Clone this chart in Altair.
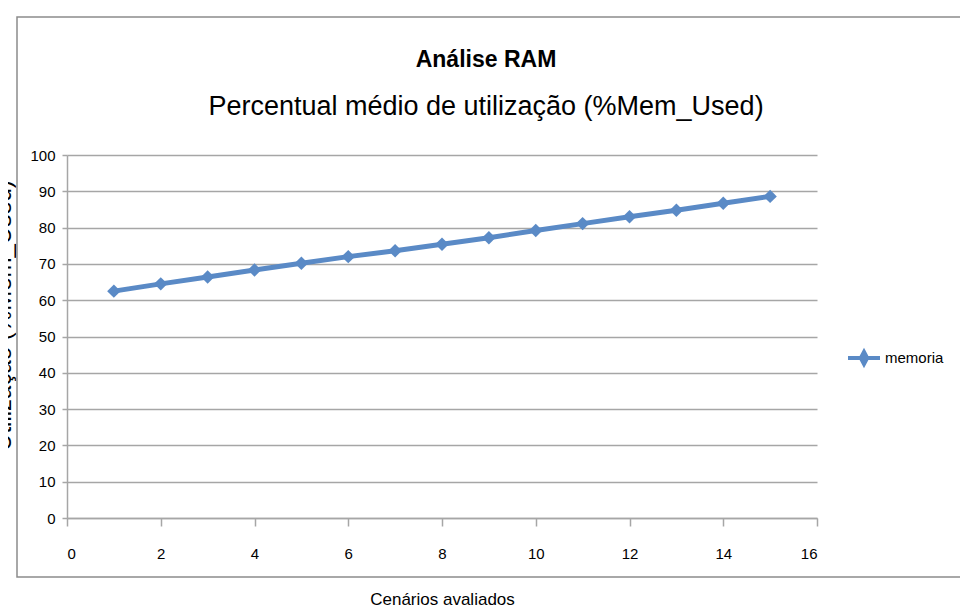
import altair as alt
import pandas as pd

cenarios = list(range(1, 16))
memoria = [62.5, 64.5, 66.4, 68.3, 70.2, 72.0, 73.6, 75.4, 77.2, 79.2, 81.1, 83.0, 84.8, 86.7, 88.6]
serie = ["memoria"] * len(cenarios)

df = pd.DataFrame({"x": cenarios, "y": memoria, "serie": serie})

FONT = "Liberation Sans, Arial, sans-serif"
BLUE = "#5A8AC6"
GRID = "#A6A6A6"

border = alt.Chart(pd.DataFrame({"a": [0]})).mark_rect(
    fillOpacity=0, stroke="#8C8C8C", strokeWidth=1.5
).encode(
    x=alt.value(-50), x2=alt.value(898), y=alt.value(-138), y2=alt.value(422)
)

line = alt.Chart(df).mark_line(
    strokeWidth=5,
    point=alt.OverlayMarkDef(shape="diamond", size=180, filled=True),
).encode(
    x=alt.X("x:Q", scale=alt.Scale(domain=[0, 16], nice=False),
            axis=alt.Axis(values=list(range(0, 17, 2)), title="Cenários avaliados",
                          grid=False, tickSize=8, labelPadding=20, labelFontSize=15,
                          titleY=73, titleFontSize=17, titleFontWeight="normal",
                          titleBaseline="top")),
    y=alt.Y("y:Q", scale=alt.Scale(domain=[0, 100], nice=False),
            axis=alt.Axis(values=list(range(0, 101, 10)), title="Utilização (%Mem_Used)",
                          grid=True, tickSize=5, labelPadding=7, labelFontSize=15,
                          titleX=-57, titleY=160, titleAngle=-90, titleFontSize=24,
                          titleFontWeight="normal", titleAlign="center",
                          titleBaseline="alphabetic")),
    color=alt.Color("serie:N", scale=alt.Scale(range=[BLUE]),
                    legend=alt.Legend(title=None, orient="none", legendX=779, legendY=185,
                                      symbolType="M-1,0L1,0M0,-0.38L0.2,0L0,0.38L-0.2,0Z",
                                      symbolStrokeWidth=4, symbolFillColor=BLUE,
                                      symbolSize=1024, labelFontSize=15,
                                      labelOffset=3)),
)

chart = alt.layer(border, line).properties(
    width=750, height=363,
    title=alt.Title("Análise RAM", subtitle="Percentual médio de utilização (%Mem_Used)",
                    anchor="middle", frame="group", dx=44, offset=-104, fontSize=23,
                    fontWeight="bold", subtitleFontSize=27, subtitlePadding=22,
                    color="black", subtitleColor="black", font=FONT, subtitleFont=FONT),
    autosize=alt.AutoSizeParams(type="none"),
    padding={"left": 59, "top": 147, "right": 143, "bottom": 95},
    background="white",
).configure_view(stroke=None).configure_axis(
    labelFont=FONT, titleFont=FONT, labelFontSize=15, labelColor="black",
    titleColor="black", gridColor=GRID, gridWidth=1.5, domainColor=GRID,
    domainWidth=1.5, tickColor=GRID, tickWidth=1.5
).configure_legend(labelFont=FONT, labelColor="black")

chart.save("out.html", embed_options={"renderer": "svg", "actions": False})
